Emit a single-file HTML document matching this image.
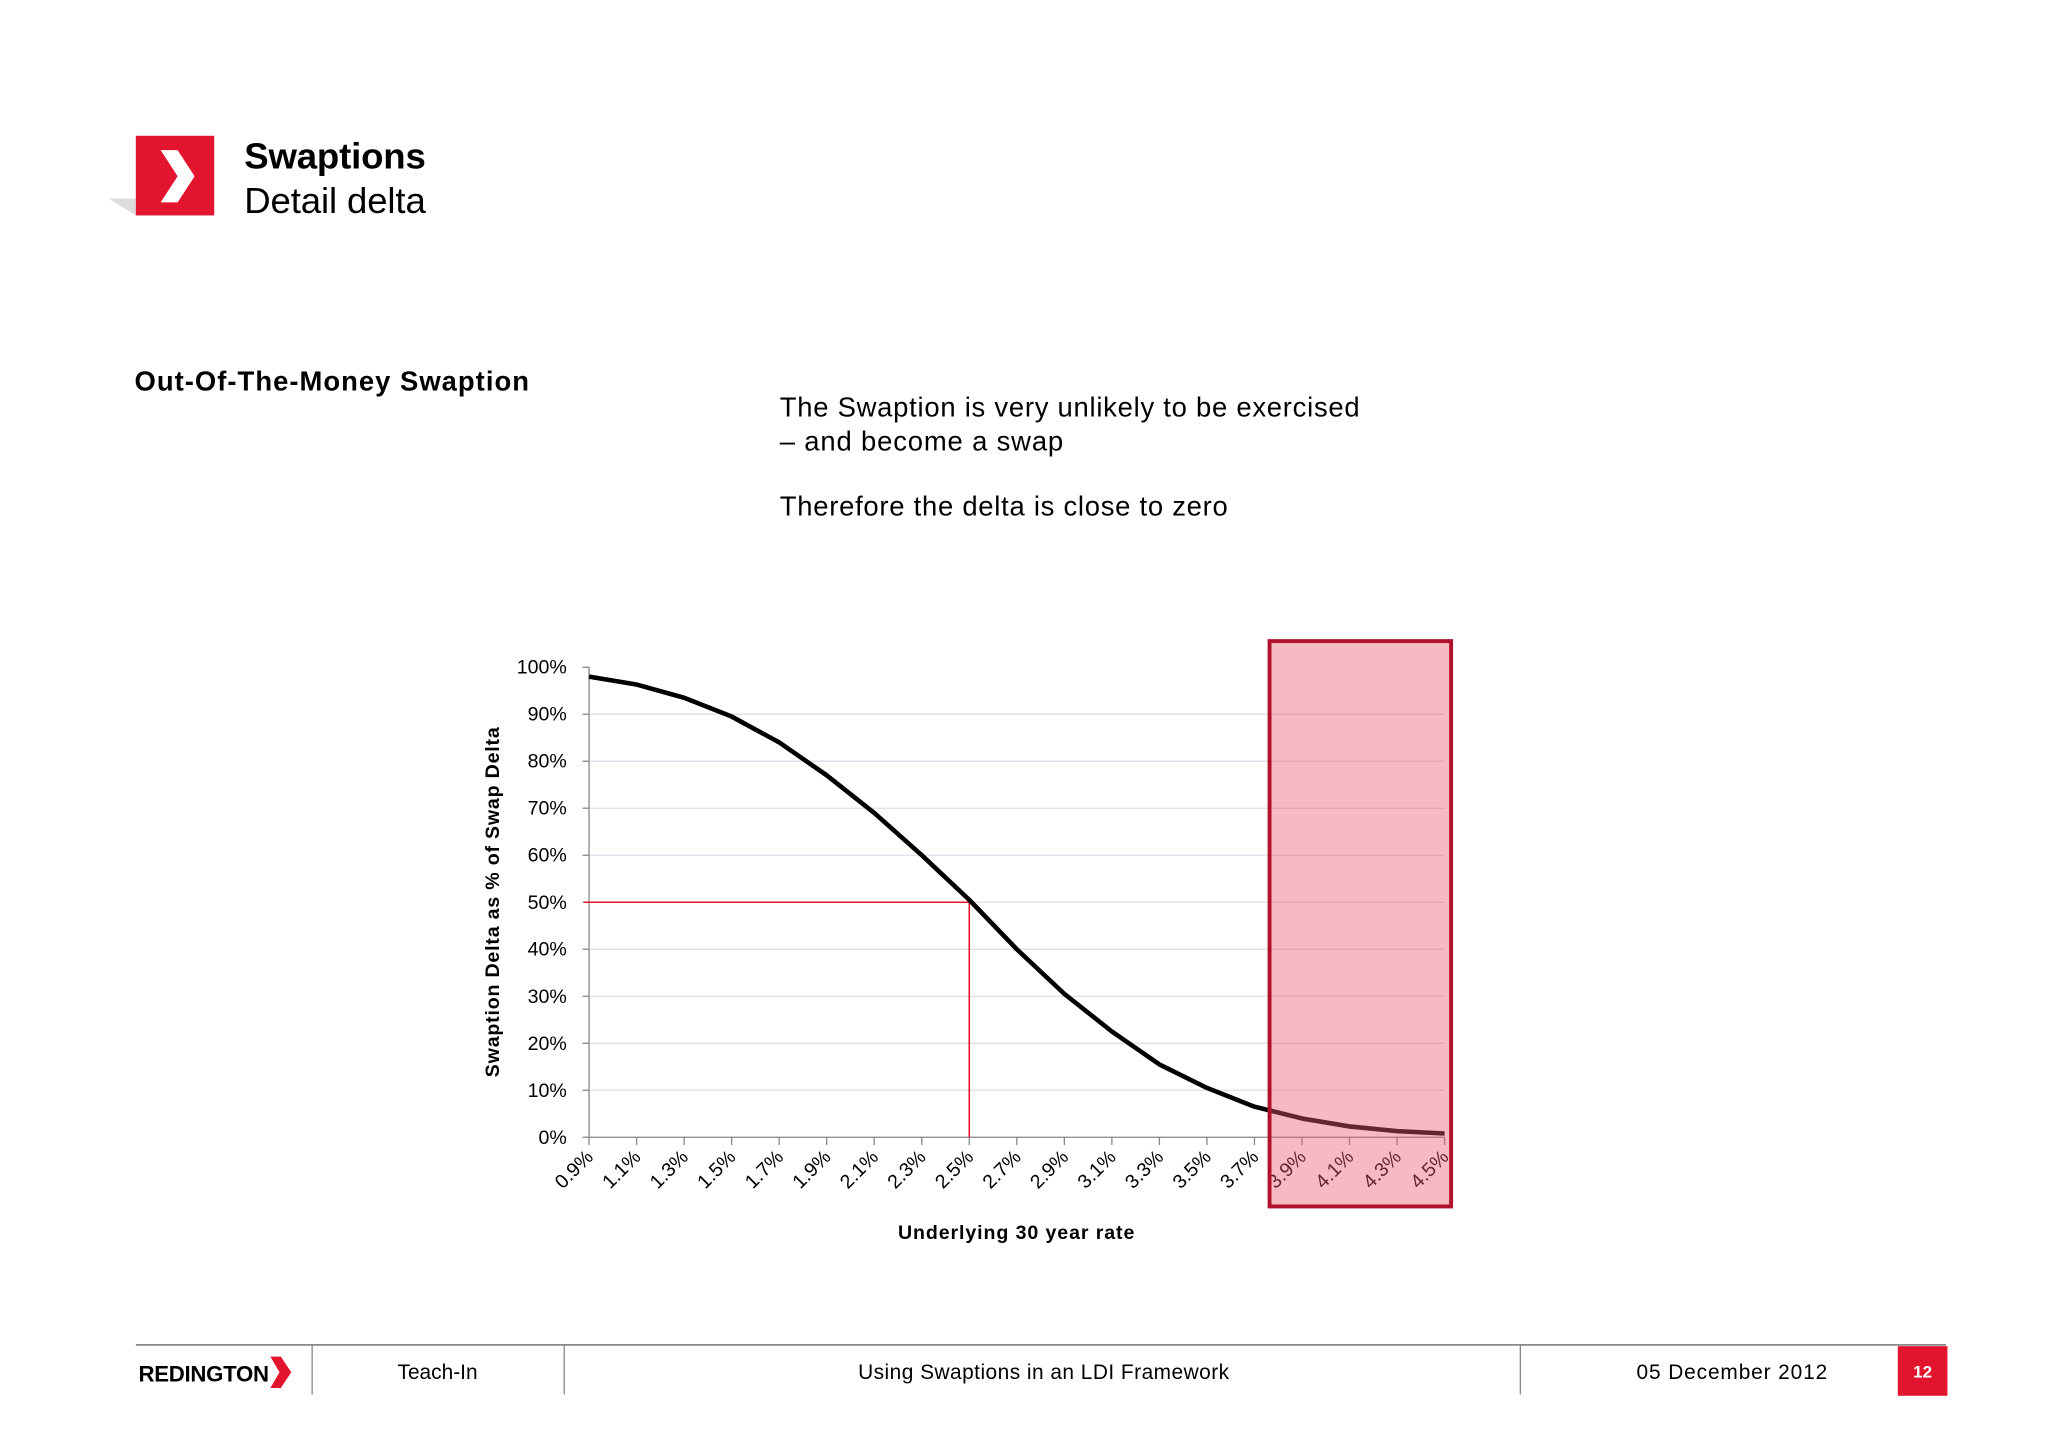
<!DOCTYPE html>
<html><head><meta charset="utf-8"><style>
html,body{margin:0;padding:0;background:#fff;}
svg{display:block;font-family:"Liberation Sans",Arial,sans-serif;}
</style></head><body>
<svg id="s" width="2048" height="1448" viewBox="0 0 1568 1109" preserveAspectRatio="none" xmlns="http://www.w3.org/2000/svg">
<rect width="1568" height="1109" fill="#fff"/>
<g>
<polygon points="83,152 104,152 104,165" fill="#ddd"/>
<rect x="104" y="104" width="60" height="61" fill="#e3142d"/>
<polygon points="123,115 136,115 149,135 136,155 123,155 136,135" fill="#fff"/>
</g>
<text x="187" y="129" font-size="28" font-weight="bold" textLength="139">Swaptions</text>
<text x="187" y="163" font-size="28" textLength="139">Detail delta</text>
<text x="103" y="299" font-size="21" font-weight="bold" textLength="302">Out-Of-The-Money Swaption</text>
<g font-size="21">
<text x="597" y="319" textLength="444">The Swaption is very unlikely to be exercised</text>
<text x="597" y="345" textLength="217">– and become a swap</text>
<text x="597" y="395" textLength="343">Therefore the delta is close to zero</text>
</g>
<g id="chart"></g>
<g>
<line x1="104" y1="1030" x2="1490" y2="1030" stroke="#888" stroke-width="1.3"/>
<line x1="239" y1="1030" x2="239" y2="1068" stroke="#888"/>
<line x1="432" y1="1030" x2="432" y2="1068" stroke="#888"/>
<line x1="1164" y1="1030" x2="1164" y2="1068" stroke="#888"/>
<text x="106" y="1058" font-size="17" font-weight="bold" textLength="100">REDINGTON</text>
<polygon points="207,1039 215,1039 223,1051 215,1063 207,1063 214,1051" fill="#e3142d"/>
<text x="335" y="1056" font-size="16" text-anchor="middle">Teach-In</text>
<text x="799" y="1056" font-size="16" text-anchor="middle" textLength="284">Using Swaptions in an LDI Framework</text>
<text x="1326" y="1056" font-size="16" text-anchor="middle" textLength="146">05  December 2012</text>
<rect x="1453" y="1031" width="38" height="38" fill="#e3142d"/>
<text x="1472" y="1055" font-size="13" font-weight="bold" fill="#fff" text-anchor="middle">12</text>
</g>
</svg>
<script>
const categories=["0.9%","1.1%","1.3%","1.5%","1.7%","1.9%","2.1%","2.3%","2.5%","2.7%","2.9%","3.1%","3.3%","3.5%","3.7%","3.9%","4.1%","4.3%","4.5%"];
const deltaValues=[98,96.3,93.5,89.5,84,77,69,60,50.5,40,30.5,22.5,15.5,10.5,6.5,4,2.3,1.3,0.8];
const yTicks=[0,10,20,30,40,50,60,70,80,90,100];
const NS="http://www.w3.org/2000/svg";
const g=document.getElementById('chart');
const X0=451,X1=1106,Y0=871,Y1=511;
function x(i){return X0+(X1-X0)*i/(categories.length-1);}
function y(v){return Y0-(Y0-Y1)*v/100;}
function mk(t,a,p){const e=document.createElementNS(NS,t);for(const k in a)e.setAttribute(k,a[k]);(p||g).appendChild(e);return e;}
yTicks.forEach(v=>{
 if(v>0&&v<100){const l=mk('line',{x1:X0,y1:y(v),x2:X1,y2:y(v),stroke:'#d9dfea','stroke-width':1});
 
 }
 const tk=mk('line',{x1:X0-5,y1:y(v),x2:X0,y2:y(v),stroke:'#888'});
 
 
 const t=mk('text',{x:X0-17,y:y(v)+5,'font-size':15,'text-anchor':'end'});t.textContent=v+'%';
 
 
});
const ax=mk('line',{x1:X0,y1:Y1,x2:X0,y2:Y0,stroke:'#888'});


const xa=mk('line',{x1:X0,y1:Y0,x2:X1,y2:Y0,stroke:'#888'});


categories.forEach((c,i)=>{
 const tk=mk('line',{x1:x(i),y1:Y0,x2:x(i),y2:Y0+6,stroke:'#888'});
 
 
 const t=mk('text',{x:x(i)+4,y:Y0+16,'font-size':15,'text-anchor':'end',transform:`rotate(-45 ${x(i)+4} ${Y0+16})`});t.textContent=c;
 
 
});
const mid=categories.indexOf("2.5%");
const h=mk('line',{x1:X0-4,y1:y(50),x2:x(mid),y2:y(50),stroke:'#e3142d','stroke-width':1.2});


const vl=mk('line',{x1:x(mid),y1:y(51),x2:x(mid),y2:Y0,stroke:'#e3142d','stroke-width':1.2});


const curve=mk('polyline',{points:deltaValues.map((v,i)=>x(i)+','+y(v)).join(' '),fill:'none',stroke:'#000','stroke-width':3.5,'stroke-linejoin':'round'});


const hl=mk('rect',{x:972,y:491,width:139,height:433,fill:'rgba(234,90,110,0.42)',stroke:'#b0122a','stroke-width':3});


const yt=mk('text',{x:382,y:691,'font-size':15,'font-weight':'bold','text-anchor':'middle',textLength:268,transform:'rotate(-90 382 691)'});yt.textContent='Swaption Delta as % of Swap Delta';


const xt=mk('text',{x:778,y:949,'font-size':15,'font-weight':'bold','text-anchor':'middle',textLength:181});xt.textContent='Underlying 30 year rate';


</script>
</body></html>
